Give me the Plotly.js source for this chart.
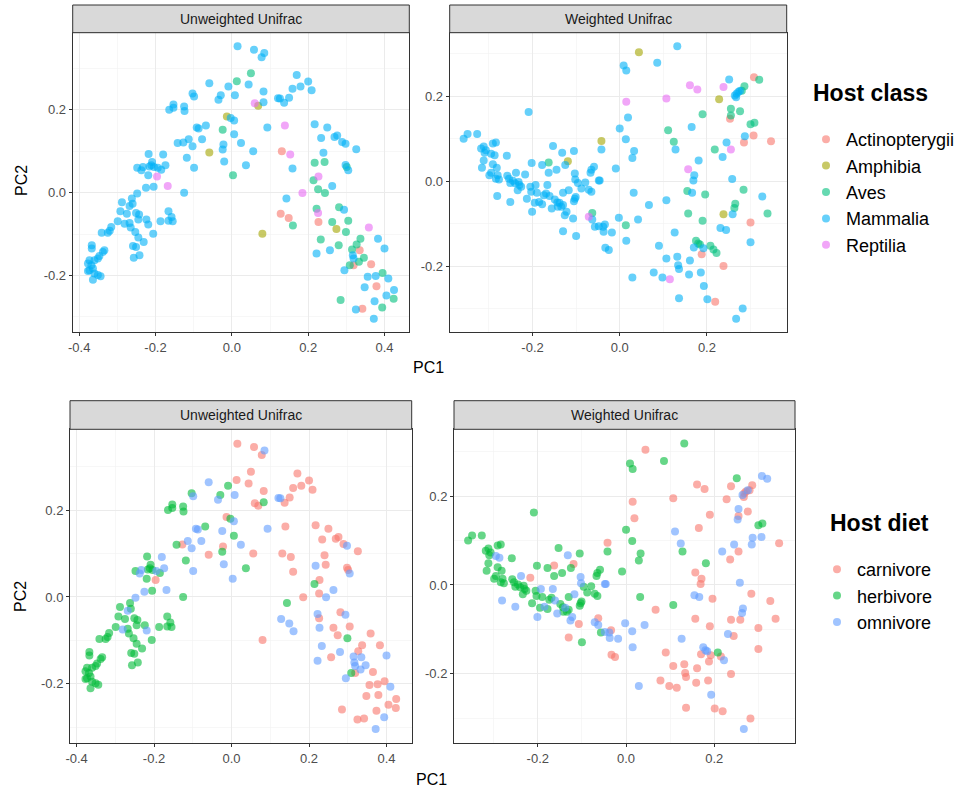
<!DOCTYPE html>
<html>
<head>
<meta charset="utf-8">
<script src="https://cdn.plot.ly/plotly-3.0.1.min.js"></script>
<style>html,body{margin:0;padding:0;background:#fff;}#chart{width:971px;height:788px;}</style>
</head>
<body>
<div id="chart"></div>
<script>
// ---------- categories ----------
const classCodes = ["A","P","V","M","R"];
const classNames = ["Actinopterygii","Amphibia","Aves","Mammalia","Reptilia"];
const classColors = ["#F8766D","#A3A500","#00BF7D","#00B0F6","#E76BF3"];
const dietCodes = ["c","h","o"];
const dietNames = ["carnivore","herbivore","omnivore"];
const dietColors = ["#F8766D","#00BA38","#619CFF"];

// ---------- Unweighted Unifrac ordination ----------
const uwX = [
0.015,0.013,-0.059,-0.009,-0.029,-0.035,0.008,-0.103,-0.099,-0.153,
-0.164,-0.153,-0.125,-0.124,-0.013,-0.003,0.006,-0.024,-0.092,-0.087,
-0.068,0.006,-0.142,-0.127,-0.113,-0.103,-0.078,-0.022,-0.024,0.024,
-0.059,-0.118,-0.099,-0.02,0.003,-0.218,-0.18,-0.209,-0.211,-0.248,
-0.237,-0.233,-0.216,-0.204,-0.194,-0.185,-0.174,-0.219,-0.196,-0.168,
-0.205,-0.225,-0.125,-0.248,-0.262,-0.288,-0.26,-0.268,-0.292,-0.275,
-0.251,-0.243,-0.166,-0.158,-0.166,-0.155,-0.299,-0.281,-0.268,-0.245,
-0.224,-0.219,-0.187,-0.316,-0.325,-0.341,-0.32,-0.265,-0.253,-0.245,
-0.231,-0.206,-0.259,-0.251,-0.242,-0.257,-0.367,-0.367,-0.338,-0.334,
-0.373,-0.36,-0.351,-0.347,-0.377,-0.368,-0.364,-0.373,-0.377,-0.36,
-0.351,-0.344,-0.364,
0.058,0.085,0.078,0.05,0.044,0.083,0.06,
0.069,0.083,0.121,0.126,0.137,0.15,0.159,0.17,0.18,0.2,
0.209,0.093,0.139,0.217,0.25,0.234,0.269,0.276,0.289,0.298,
0.326,0.056,0.037,0.131,0.153,0.159,0.24,0.217,0.243,0.298,
0.301,0.305,0.227,0.214,0.263,0.185,0.226,0.244,0.143,0.128,
0.149,0.16,0.222,0.226,0.227,0.281,0.294,0.263,0.305,0.274,
0.299,0.08,0.359,0.233,0.222,0.257,0.28,0.337,0.327,0.315,
0.335,0.317,0.319,0.333,0.346,0.309,0.319,0.295,0.365,0.383,
0.4,0.356,0.377,0.395,0.41,0.348,0.379,0.425,0.405,0.424,
0.285,0.374,0.394,0.342,0.325,0.372];
const uwY = [
0.353,0.269,0.264,0.256,0.235,0.224,0.235,0.239,0.232,0.213,
0.2,0.205,0.208,0.197,0.184,0.18,0.174,0.152,0.157,0.155,
0.162,0.141,0.12,0.121,0.129,0.112,0.129,0.116,0.104,0.12,
0.097,0.084,0.06,0.075,0.042,0.093,0.092,0.074,0.066,0.06,
0.054,0.062,0.063,0.062,0.06,0.055,0.066,0.042,0.039,0.016,
0.014,0.012,0.0,-0.002,-0.014,-0.023,-0.027,-0.032,-0.045,-0.051,
-0.049,-0.053,-0.045,-0.059,-0.068,-0.069,-0.069,-0.075,-0.073,-0.065,
-0.065,-0.077,-0.069,-0.083,-0.097,-0.097,-0.092,-0.084,-0.095,-0.108,
-0.119,-0.099,-0.129,-0.131,-0.151,-0.157,-0.127,-0.135,-0.143,-0.139,
-0.163,-0.163,-0.159,-0.153,-0.171,-0.175,-0.183,-0.187,-0.189,-0.195,
-0.199,-0.202,-0.21,
0.345,0.337,0.327,0.288,0.261,0.244,0.216,
0.21,0.218,0.228,0.227,0.217,0.229,0.251,0.284,0.256,0.268,
0.247,0.157,0.162,0.165,0.157,0.132,0.134,0.138,0.122,0.118,
0.105,0.1,0.066,0.1,0.092,0.058,0.096,0.072,0.074,0.067,
0.062,0.054,0.039,0.03,0.016,-0.001,0.008,-0.001,-0.014,-0.051,
-0.061,-0.079,-0.039,-0.049,-0.071,-0.035,-0.041,-0.071,-0.068,-0.088,
-0.095,-0.099,-0.084,-0.113,-0.147,-0.139,-0.127,-0.111,-0.125,-0.137,
-0.139,-0.151,-0.159,-0.167,-0.157,-0.175,-0.175,-0.187,-0.173,-0.111,
-0.135,-0.203,-0.201,-0.194,-0.207,-0.228,-0.226,-0.235,-0.248,-0.256,
-0.259,-0.262,-0.277,-0.28,-0.282,-0.304];
const uwClass = [
"M","V","M","M","M","M","M","M","M","M",
"M","M","M","M","P","M","M","V","M","M",
"M","M","M","M","M","M","M","M","M","M",
"P","M","M","M","V","M","M","M","M","M",
"M","M","M","M","M","M","M","M","R","R",
"M","M","M","M","M","M","M","M","M","M",
"M","M","M","M","M","M","M","M","M","M",
"M","M","M","M","M","M","M","M","M","M",
"M","M","M","M","M","M","M","M","M","M",
"M","M","M","M","M","M","M","M","M","M",
"M","M","M",
"M","M","M","V","M","M","R",
"P","M","M","M","M","M","M","M","M","M",
"M","M","R","M","M","M","M","M","M","M",
"M","M","M","A","R","M","M","V","V","M",
"V","M","R","V","M","R","V","V","M","A",
"A","V","V","R","A","V","M","V","V","P",
"V","P","R","V","M","M","V","V","V","V",
"A","M","M","V","V","V","A","M","A","M",
"M","M","M","V","M","M","A","M","M","V",
"V","M","V","A","M","M"];
const uwDiet = [
"c","c","o","h","h","o","o","h","o","h",
"h","h","h","h","c","h","o","o","o","o",
"h","h","h","c","o","o","o","c","h","o",
"c","h","o","o","o","h","o","h","h","h",
"o","o","h","h","o","h","o","h","c","o",
"h","o","h","o","h","h","h","o","h","h",
"h","h","h","h","h","h","h","o","h","h",
"h","o","h","h","h","h","h","h","h","h",
"h","h","h","h","h","h","h","h","h","h",
"h","h","h","h","h","h","h","h","h","h",
"h","h","h",
"c","o","c","c","c","c","c",
"c","h","o","o","c","c","c","c","c","c",
"c","o","c","c","c","c","c","c","c","o",
"c","c","h","c","c","c","c","o","c","c",
"c","o","c","h","o","c","c","o","h","o",
"o","o","o","c","o","c","o","c","c","c",
"h","c","c","o","o","c","o","c","c","o",
"o","o","o","o","o","h","c","o","c","c",
"o","c","c","c","o","c","c","c","c","c",
"c","c","o","c","c","o"];

// ---------- Weighted Unifrac ordination ----------
const wX = [
-0.209,-0.349,-0.358,-0.327,-0.318,-0.312,-0.307,-0.31,-0.295,-0.287,
-0.291,-0.284,-0.259,-0.312,-0.316,-0.291,-0.282,-0.299,-0.295,-0.28,
-0.284,-0.277,-0.281,-0.258,-0.254,-0.251,-0.245,-0.238,-0.24,-0.232,
-0.23,-0.234,-0.226,-0.217,-0.251,-0.202,-0.213,-0.205,-0.203,-0.193,
-0.19,-0.195,-0.185,-0.178,-0.201,-0.178,-0.163,-0.153,-0.163,-0.166,
-0.174,-0.169,-0.161,-0.149,-0.156,-0.142,-0.138,-0.134,-0.13,-0.143,
-0.145,-0.132,-0.125,-0.119,-0.105,-0.13,-0.117,-0.122,-0.126,-0.107,
-0.13,-0.1,-0.103,-0.102,-0.096,-0.088,-0.079,-0.103,-0.105,-0.101,
-0.071,-0.065,-0.067,-0.065,-0.059,-0.048,-0.063,-0.071,-0.063,-0.057,-0.048,
0.132,0.044,0.009,0.015,0.086,0.015,0.019,0.0,0.014,
-0.042,-0.042,0.033,0.029,-0.009,-0.046,0.107,0.161,0.178,0.111,
0.124,0.128,0.165,0.19,0.181,0.157,0.171,0.169,0.155,0.166,
0.196,0.032,0.067,0.107,-0.002,0.042,0.014,-0.038,-0.034,-0.037,
-0.018,0.015,-0.033,-0.025,0.126,0.157,0.19,0.09,0.107,0.132,
0.134,0.136,0.161,0.078,0.098,0.115,0.029,0.159,0.186,0.136,
0.193,0.201,0.219,0.175,0.18,0.184,0.17,0.192,0.188,0.208,
0.215,0.222,0.238,0.231,0.244,0.238,0.259,0.263,0.265,0.258,
0.284,0.327,0.339,0.3,0.3,0.282,0.267,0.218,0.236,0.245,
0.255,0.285,0.287,0.307,0.347,0.3,0.309,0.253,0.255,0.255,
0.276,0.228,0.238,0.251,0.264,0.268,0.272,0.276,0.267,0.28,
0.286,0.308,0.32];
const wY = [
0.163,0.111,0.1,0.111,0.077,0.082,0.073,0.067,0.065,0.061,
0.089,0.091,0.06,0.049,0.032,0.04,0.032,0.014,0.02,0.014,
0.006,0.004,-0.035,0.013,0.006,-0.004,0.001,0.02,-0.005,-0.002,
-0.009,-0.021,-0.013,0.016,-0.049,0.043,-0.041,-0.013,-0.025,-0.009,
-0.027,-0.051,-0.049,-0.054,-0.072,0.038,0.044,0.083,0.02,-0.009,
-0.033,-0.029,-0.035,-0.043,-0.064,-0.06,-0.051,-0.06,-0.056,-0.05,
0.027,0.067,0.038,0.047,0.071,-0.027,-0.021,-0.072,-0.08,-0.088,
-0.118,-0.129,0.018,0.004,-0.004,-0.017,-0.003,-0.041,-0.047,-0.037,
-0.02,-0.025,0.02,0.027,0.034,0.002,-0.075,-0.084,-0.09,-0.107,-0.106,
0.318,0.304,0.273,0.261,0.279,0.187,0.15,0.124,0.099,
0.095,0.075,0.071,0.055,0.03,0.002,0.195,0.226,0.216,0.12,
0.093,0.075,0.128,0.158,0.049,0.028,0.014,0.002,-0.023,-0.027,
-0.031,-0.027,-0.056,-0.045,-0.086,-0.09,-0.104,-0.107,-0.102,-0.119,
-0.121,-0.14,-0.157,-0.162,-0.121,-0.076,-0.093,-0.152,-0.182,-0.178,
-0.198,-0.207,-0.187,-0.215,-0.227,-0.231,-0.227,-0.22,-0.215,-0.276,
-0.247,-0.278,-0.284,-0.14,-0.147,-0.149,-0.156,-0.158,-0.172,-0.152,
-0.161,-0.169,-0.2,-0.11,-0.115,-0.078,-0.078,-0.063,-0.053,0.005,
-0.02,-0.036,-0.076,-0.097,-0.144,-0.3,-0.324,0.075,0.057,0.091,
0.075,0.091,0.106,0.108,0.094,0.134,0.138,0.147,0.155,0.171,
0.165,0.193,0.222,0.24,0.202,0.206,0.21,0.213,0.198,0.213,
0.224,0.245,0.239];
const wClass = [
"M","M","M","M","M","M","M","M","M","M",
"M","M","M","M","M","M","M","M","M","M",
"M","M","M","M","M","M","M","M","M","M",
"M","M","M","M","M","M","M","M","M","M",
"M","M","M","M","M","M","V","M","M","M",
"M","M","M","M","M","M","M","M","M","M",
"M","M","M","P","M","M","M","M","M","M",
"M","M","M","M","M","M","M","M","M","M",
"M","M","M","M","M","M","V","R","M","M","M",
"M","P","M","M","M","R","M","M","M",
"P","M","M","M","M","M","R","R","R","V",
"V","M","M","V","M","R","M","M","V","M",
"V","M","M","M","M","M","V","M","M","M",
"M","M","M","M","M","V","V","M","M","M",
"M","M","M","M","M","R","M","M","M","M",
"M","M","A","V","V","V","M","M","A","V",
"V","V","A","M","M","P","M","V","V","M",
"V","M","V","A","M","M","M","V","M","M",
"R","A","M","A","A","V","V","A","V","V",
"V","P","R","M","M","M","M","M","M","V",
"V","A","V"];
const wDiet = [
"h","h","h","h","h","h","h","h","o","o",
"h","h","h","h","h","h","h","h","h","h",
"h","h","o","h","h","h","h","o","h","h",
"h","h","h","c","o","h","h","h","h","o",
"h","h","o","h","o","h","c","h","h","o",
"h","h","o","h","o","h","o","h","h","h",
"h","o","h","c","h","h","o","o","o","c",
"c","h","o","o","h","h","h","h","h","h",
"h","h","h","h","h","o","c","o","o","h","o",
"h","c","h","h","h","c","c","h","h",
"c","h","h","h","h","o","c","c","c","o",
"o","h","c","c","h","c","c","c","o","o",
"c","h","c","h","o","o","o","o","c","o",
"o","o","c","c","o","c","c","c","c","c",
"c","c","c","c","c","c","o","c","c","c",
"o","c","c","o","o","o","c","c","c","h",
"c","o","c","o","c","c","c","o","o","o",
"c","c","c","c","c","c","o","o","c","o",
"c","o","o","o","c","h","h","o","c","o",
"c","c","c","h","o","c","c","o","c","c",
"c","o","o"];

// ---------- tick labels ----------
const uwXTickVals = [-0.4,-0.2,0.0,0.2,0.4];
const uwXTickText = ["-0.4","-0.2","0.0","0.2","0.4"];
const wXTickVals = [-0.2,0.0,0.2];
const wXTickText = ["-0.2","0.0","0.2"];
const yTickVals = [-0.2,0.0,0.2];
const yTickText = ["-0.2","0.0","0.2"];
const uwXMinor = [-0.3,-0.1,0.1,0.3];
const wXMinor = [-0.3,-0.1,0.1,0.3];
const yMinor = [-0.3,-0.1,0.1,0.3];
const stripLabels = ["Unweighted Unifrac","Weighted Unifrac"];

// ---------- build ----------
const W = 971, H = 788;
const px = v => v / W;
const py = v => 1 - v / H;
const FONT = "Liberation Sans, Arial, Helvetica, sans-serif";

function groupTraces(xs, ys, groups, codes, names, colors, xa, ya, legend, show) {
  return codes.map((code, k) => {
    const gx = [], gy = [];
    groups.forEach((g, i) => { if (g === code) { gx.push(xs[i]); gy.push(ys[i]); } });
    return {
      type: "scatter", mode: "markers", x: gx, y: gy, xaxis: xa, yaxis: ya,
      name: names[k], legend: legend, showlegend: show,
      marker: {color: colors[k], size: 8, opacity: 0.6, line: {width: 0}},
      hoverinfo: "skip"
    };
  });
}

const data = [].concat(
  groupTraces(uwX, uwY, uwClass, classCodes, classNames, classColors, "x", "y", "legend", true),
  groupTraces(wX, wY, wClass, classCodes, classNames, classColors, "x2", "y2", "legend", false),
  groupTraces(uwX, uwY, uwDiet, dietCodes, dietNames, dietColors, "x3", "y3", "legend2", true),
  groupTraces(wX, wY, wDiet, dietCodes, dietNames, dietColors, "x4", "y4", "legend2", false)
);

function axis(domain, range, anchor, tv, tt, minorVals) {
  return {
    domain: domain, range: range, anchor: anchor,
    tickmode: "array", tickvals: tv, ticktext: tt,
    ticks: "outside", ticklen: 3, tickwidth: 1, tickcolor: "#333333",
    showgrid: true, gridcolor: "#ebebeb", gridwidth: 1,
    minor: {tickmode: "array", tickvals: minorVals, showgrid: true, gridcolor: "#f2f2f2", gridwidth: 0.6, ticks: ""},
    zeroline: false, showline: true, mirror: true, linecolor: "#333333", linewidth: 1,
    tickfont: {family: FONT, size: 13, color: "#4d4d4d"},
    fixedrange: true
  };
}

const topY = [py(332.3), py(32.7)];
const botY = [py(743.3), py(429.3)];
const panels = [
  {x0: 72.7, x1: 409.3, s0: 5, s1: 32.7, label: stripLabels[0]},
  {x0: 449.7, x1: 786.7, s0: 5, s1: 32.7, label: stripLabels[1]},
  {x0: 70, x1: 411.7, s0: 400.7, s1: 429.3, label: stripLabels[0]},
  {x0: 454, x1: 795, s0: 400.7, s1: 429.3, label: stripLabels[1]}
];

const shapes = panels.map(p => ({
  type: "rect", xref: "paper", yref: "paper",
  x0: px(p.x0), x1: px(p.x1), y0: py(p.s1), y1: py(p.s0),
  fillcolor: "#d9d9d9", line: {color: "#333333", width: 1}, layer: "above"
}));

const annotations = panels.map(p => ({
  xref: "paper", yref: "paper", x: px((p.x0 + p.x1) / 2), y: py((p.s0 + p.s1) / 2),
  text: p.label, showarrow: false, xanchor: "center", yanchor: "middle",
  font: {family: FONT, size: 14, color: "#1a1a1a"}
})).concat([
  {xref: "paper", yref: "paper", x: px(428), y: py(367), text: "PC1", showarrow: false,
   xanchor: "center", yanchor: "middle", font: {family: FONT, size: 16, color: "#000"}},
  {xref: "paper", yref: "paper", x: px(431), y: py(779), text: "PC1", showarrow: false,
   xanchor: "center", yanchor: "middle", font: {family: FONT, size: 16, color: "#000"}},
  {xref: "paper", yref: "paper", x: px(22), y: py(181), text: "PC2", showarrow: false, textangle: -90,
   xanchor: "center", yanchor: "middle", font: {family: FONT, size: 16, color: "#000"}},
  {xref: "paper", yref: "paper", x: px(20), y: py(597), text: "PC2", showarrow: false, textangle: -90,
   xanchor: "center", yanchor: "middle", font: {family: FONT, size: 16, color: "#000"}},
  {xref: "paper", yref: "paper", x: px(811), y: py(93), text: "<b>Host class</b>", showarrow: false,
   xanchor: "left", yanchor: "middle", font: {family: FONT, size: 23, color: "#000"}},
  {xref: "paper", yref: "paper", x: px(828), y: py(523), text: "<b>Host diet</b>", showarrow: false,
   xanchor: "left", yanchor: "middle", font: {family: FONT, size: 23, color: "#000"}}
]);

const layout = {
  width: W, height: H, autosize: false,
  margin: {l: 0, r: 0, t: 0, b: 0, pad: 0},
  paper_bgcolor: "#ffffff", plot_bgcolor: "#ffffff",
  hovermode: false,
  xaxis: axis([px(72.7), px(409.3)], [-0.417, 0.465], "y", uwXTickVals, uwXTickText, uwXMinor),
  yaxis: axis(topY, [-0.337, 0.386], "x", yTickVals, yTickText, yMinor),
  xaxis2: axis([px(449.7), px(786.7)], [-0.39, 0.383], "y2", wXTickVals, wXTickText, wXMinor),
  yaxis2: axis(topY, [-0.356, 0.35], "x2", yTickVals, yTickText, yMinor),
  xaxis3: axis([px(70), px(411.7)], [-0.417, 0.465], "y3", uwXTickVals, uwXTickText, uwXMinor),
  yaxis3: axis(botY, [-0.337, 0.386], "x3", yTickVals, yTickText, yMinor),
  xaxis4: axis([px(454), px(795)], [-0.39, 0.383], "y4", wXTickVals, wXTickText, wXMinor),
  yaxis4: axis(botY, [-0.356, 0.35], "x4", yTickVals, yTickText, yMinor),
  legend: {x: px(806), y: py(121), xanchor: "left", yanchor: "top", bgcolor: "rgba(0,0,0,0)",
           font: {family: FONT, size: 18, color: "#000"}, tracegroupgap: 0, traceorder: "normal"},
  legend2: {x: px(817), y: py(551), xanchor: "left", yanchor: "top", bgcolor: "rgba(0,0,0,0)",
           font: {family: FONT, size: 18, color: "#000"}, tracegroupgap: 0, traceorder: "normal"},
  shapes: shapes,
  annotations: annotations
};

Plotly.newPlot("chart", data, layout, {staticPlot: true, displayModeBar: false});
</script>
</body>
</html>
